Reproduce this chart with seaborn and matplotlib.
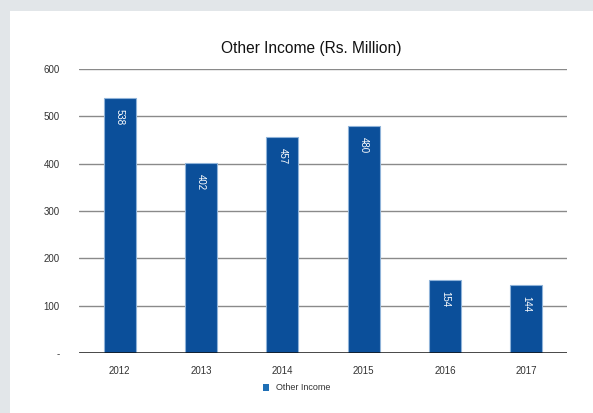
import matplotlib
matplotlib.use("Agg")
import matplotlib.pyplot as plt
from matplotlib.patches import Rectangle
import seaborn as sns
import pandas as pd

years = ["2012", "2013", "2014", "2015", "2016", "2017"]
other_income = [538, 402, 457, 480, 154, 144]
y_ticks = [0, 100, 200, 300, 400, 500, 600]
y_tick_labels = ["-", "100", "200", "300", "400", "500", "600"]

sns.set_theme(style="white")
plt.rcParams["font.family"] = ["Liberation Sans", "DejaVu Sans"]

bar_color = "#0b4f9a"
df = pd.DataFrame({"Year": years, "Other Income": other_income})

fig = plt.figure(figsize=(5.93, 4.13), dpi=100)
fig.patch.set_facecolor("#e2e6e9")
fig.patches.append(Rectangle((10 / 593, 0), 1 - 10 / 593, 1 - 11 / 413,
                             transform=fig.transFigure, facecolor="white",
                             edgecolor="none", zorder=-10))

ax = fig.add_axes([79 / 593, 1 - 353 / 413, (567 - 79) / 593, (353 - 69) / 413])
ax.set_facecolor("none")

sns.barplot(data=df, x="Year", y="Other Income", color=bar_color,
            width=0.39, edgecolor="#8fb3d9", linewidth=0.8,
            saturation=1, ax=ax, zorder=3)

ax.set_ylim(0, 600)
ax.set_yticks(y_ticks)
ax.set_yticklabels(y_tick_labels)
for y in y_ticks[1:]:
    ax.axhline(y, color="#8a8a8a", lw=1.0, zorder=1)
ax.axhline(0, color="#111111", lw=1.8, zorder=4)

for s in ax.spines.values():
    s.set_visible(False)
ax.tick_params(axis="both", length=0, labelsize=7, colors="#333333")
ax.tick_params(axis="y", pad=14)
ax.tick_params(axis="x", pad=9)
ax.set_xlabel("")
ax.set_ylabel("")

for i, v in enumerate(other_income):
    ax.annotate(str(v), (i, v), xytext=(0, -8), textcoords="offset points",
                rotation=270, ha="center", va="top", color="white",
                fontsize=7, zorder=5)

fig.text(311 / 593, 1 - 48 / 413, "Other Income (Rs. Million)",
         fontsize=11.2, color="#111111", ha="center", va="center")

leg = fig.legend(handles=[Rectangle((0, 0), 1, 1, facecolor="#1f6fb5",
                                    edgecolor="none")],
                 labels=["Other Income"], loc="center",
                 bbox_to_anchor=(0.5, 1 - 388 / 413), frameon=False,
                 fontsize=6.5, handlelength=0.7, handleheight=0.7,
                 handletextpad=0.8)
for t in leg.get_texts():
    t.set_color("#333333")

fig.savefig("out.png", dpi=100, facecolor=fig.get_facecolor())
